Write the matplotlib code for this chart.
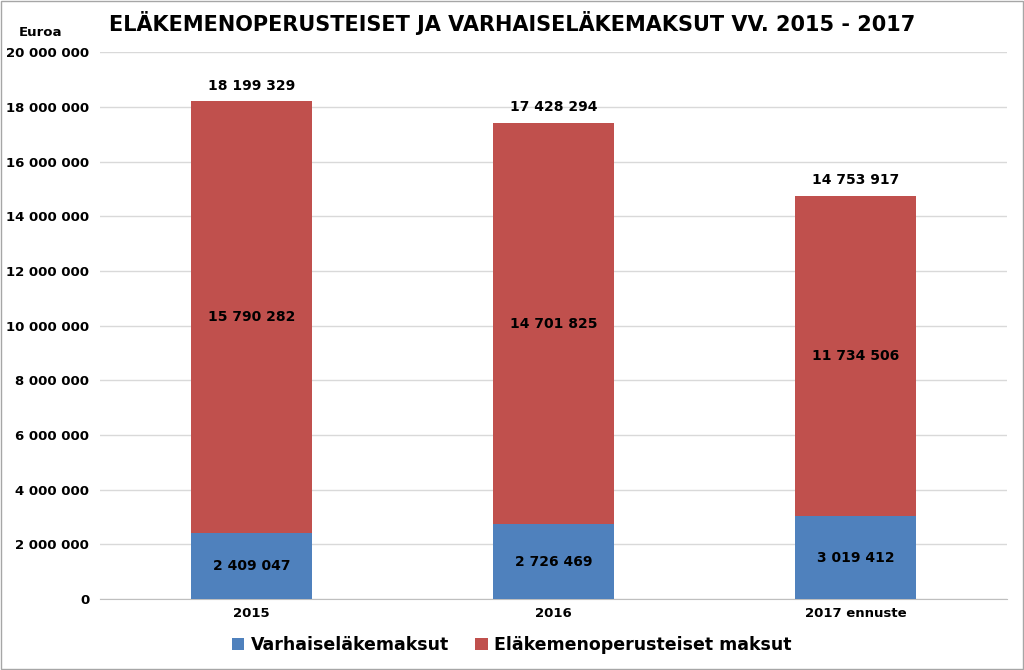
import matplotlib
matplotlib.use("Agg")
import matplotlib.pyplot as plt
from matplotlib.patches import Rectangle

categories = ["2015", "2016", "2017 ennuste"]
varhais = [2409047, 2726469, 3019412]
elake = [15790282, 14701825, 11734506]
totals = [18199329, 17428294, 14753917]
yticks = list(range(0, 20000001, 2000000))

def fmt(v):
    return f"{v:,}".replace(",", " ")

plt.rcParams["font.family"] = "DejaVu Sans"
fig = plt.figure(figsize=(10.24, 6.70), dpi=100)
ax = fig.add_axes([0.098, 0.106, 0.885, 0.816])
x = list(range(len(categories)))
c1, c2 = "#4F81BD", "#C0504D"
ax.bar(x, varhais, width=0.4, color=c1, label="Varhaiseläkemaksut", zorder=3)
ax.bar(x, elake, width=0.4, bottom=varhais, color=c2, label="Eläkemenoperusteiset maksut", zorder=3)
for i in x:
    ax.text(i, varhais[i] / 2, fmt(varhais[i]), ha="center", va="center", fontsize=10, fontweight="bold", zorder=4)
    ax.text(i, varhais[i] + elake[i] / 2, fmt(elake[i]), ha="center", va="center", fontsize=10, fontweight="bold", zorder=4)
    ax.text(i, totals[i] + 300000, fmt(totals[i]), ha="center", va="bottom", fontsize=10, fontweight="bold", zorder=4)
ax.set_xlim(-0.5, 2.5)
ax.set_ylim(0, 20000000)
ax.set_yticks(yticks)
ax.set_yticklabels([fmt(t) for t in yticks], fontsize=9.5, fontweight="bold")
ax.set_xticks(x)
ax.set_xticklabels(categories, fontsize=9.5, fontweight="bold")
ax.grid(axis="y", color="#D9D9D9", linewidth=1, zorder=0)
for s in ["top", "right", "left"]:
    ax.spines[s].set_visible(False)
ax.spines["bottom"].set_color("#BFBFBF")
ax.tick_params(axis="y", length=0, pad=8)
ax.tick_params(axis="x", length=0, pad=6)
fig.text(0.5, 0.965, "ELÄKEMENOPERUSTEISET JA VARHAISELÄKEMAKSUT VV. 2015 - 2017",
         ha="center", va="center", fontsize=15, fontweight="bold")
fig.text(0.018, 0.952, "Euroa", ha="left", va="center", fontsize=9.5, fontweight="bold")
fig.legend(loc="center", bbox_to_anchor=(0.5, 0.037), ncol=2, frameon=False,
           prop={"size": 12.5, "weight": "bold"}, handlelength=0.7, handleheight=0.7,
           columnspacing=1.5, handletextpad=0.4)
fig.patches.append(Rectangle((0.001, 0.001), 0.998, 0.998, transform=fig.transFigure,
                             fill=False, edgecolor="#A6A6A6", linewidth=1))
fig.savefig("out.png", dpi=100)
